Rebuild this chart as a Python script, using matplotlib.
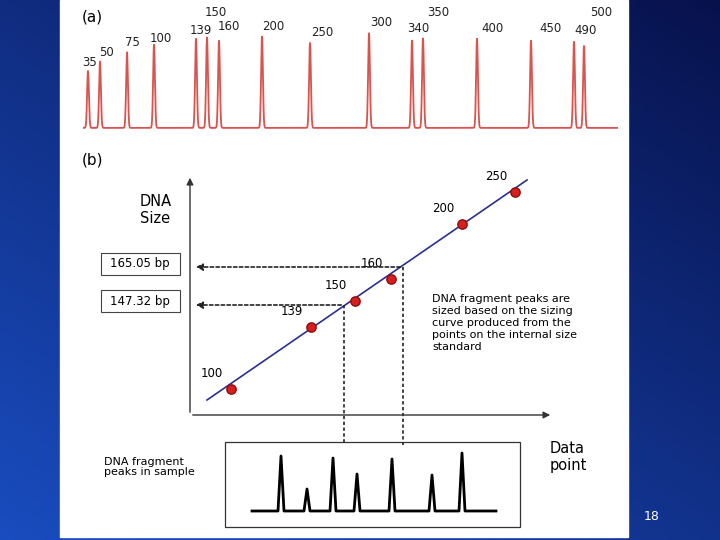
import matplotlib
matplotlib.use("Agg")
import matplotlib.pyplot as plt
import numpy as np
from matplotlib.patches import Rectangle

# ---- data ----
ladder_sizes = [35, 50, 75, 100, 139, 150, 160, 200, 250, 300, 340, 350, 400, 450, 490, 500]
ladder_pos = [5, 17, 44, 71, 113, 124, 136, 179, 227, 286, 329, 340, 394, 448, 491, 501]
ladder_height = [54, 63, 72, 79, 85, 86, 83, 87, 81, 90, 83, 85, 85, 83, 82, 78]
ladder_label_dx = [2, 7, 5, 7, 5, 9, 10, 11, 12, 12, 6, 15, 16, 19, 12, 17]
ladder_label_y = [62, 53, 43, 38, 30, 12, 27, 27, 33, 22, 28, 12, 29, 29, 30, 12]

std_sizes = [100, 139, 150, 160, 200, 250]
std_x = [41, 121, 165, 201, 272, 325]
std_y = [26, 88, 114, 136, 191, 223]
fit_x = [17, 337]
fit_y = [15, 235]
sample_x = [154, 213]
sample_y = [110, 148]
sample_labels = ["147.32 bp", "165.05 bp"]

peak_x = [0, 26, 29, 32, 52, 55, 58, 78, 81, 84, 102, 105, 108, 137, 140, 143, 177, 180, 183, 207, 210, 213, 244]
peak_y = [0, 0, 55, 0, 0, 22, 0, 0, 53, 0, 0, 37, 0, 0, 52, 0, 0, 36, 0, 0, 58, 0, 0]

W, H = 720, 540
fig = plt.figure(figsize=(7.2, 5.4), dpi=100)

def ax_px(x0, y0, x1, y1, **kw):
    return fig.add_axes([x0 / W, 1 - y1 / H, (x1 - x0) / W, (y1 - y0) / H], **kw)

# background
bg = ax_px(0, 0, 720, 540)
gx, gy = np.meshgrid(np.linspace(0, 1, 200), np.linspace(0, 1, 150))
t = np.clip(0.55 * gy + 0.45 * (1 - gx), 0, 1)
c0 = np.array([0.03, 0.07, 0.30]); c1 = np.array([0.10, 0.30, 0.75])
img = c0[None, None, :] * (1 - t[..., None]) + c1[None, None, :] * t[..., None]
bg.imshow(img, extent=[0, 720, 540, 0], aspect="auto")
bg.add_patch(Rectangle((60, 0), 568, 537, color="white"))
bg.set_xlim(0, 720); bg.set_ylim(540, 0); bg.axis("off")
bg.text(652, 517, "18", color="white", fontsize=9, ha="center", va="center")
bg.text(82, 17, "(a)", fontsize=11, va="center")
bg.text(82, 160, "(b)", fontsize=11, va="center")
for s, dx, ly, px in zip(ladder_sizes, ladder_label_dx, ladder_label_y, ladder_pos):
    bg.text(83 + px + dx, ly, str(s), fontsize=8.5, ha="center", va="center", color="#222")
bg.text(140, 210, "DNA\nSize", fontsize=10.5, ha="left", va="center", linespacing=1.1)
bg.text(550, 457, "Data\npoint", fontsize=10.5, ha="left", va="center", linespacing=1.1)
bg.text(432, 323, "DNA fragment peaks are\nsized based on the sizing\ncurve produced from the\npoints on the internal size\nstandard",
        fontsize=8, ha="left", va="center", linespacing=1.25)
bg.text(104, 467, "DNA fragment\npeaks in sample", fontsize=8, ha="left", va="center", linespacing=1.1)
for lab, yc in zip(sample_labels, [301, 264]):
    bg.add_patch(Rectangle((101, yc - 11), 79, 22, fill=False, lw=0.8, ec="#444"))
    bg.text(140, yc, lab, fontsize=8.5, ha="center", va="center")
bg.add_patch(Rectangle((225, 442), 295, 85, fill=False, lw=0.9, ec="#333"))

# (a) ladder trace
a = ax_px(83, 30, 618, 130)
xs = np.linspace(0, 535, 3000)
trace = np.full_like(xs, 2.0)
for p, h in zip(ladder_pos, ladder_height):
    trace += h * np.exp(-0.5 * ((xs - p) / 0.9) ** 2)
a.plot(xs, trace, color="#d9534f", lw=1.3)
a.set_xlim(0, 535); a.set_ylim(0, 95); a.axis("off")

# (b) sizing curve
b = ax_px(190, 175, 553, 415)
b.set_xlim(0, 363); b.set_ylim(0, 240); b.axis("off")
b.annotate("", xy=(0, 240), xytext=(0, 0), arrowprops=dict(arrowstyle="-|>", color="#333", lw=1))
b.annotate("", xy=(363, 0), xytext=(0, 0), arrowprops=dict(arrowstyle="-|>", color="#333", lw=1))
b.plot(fit_x, fit_y, color="#2b2f8f", lw=1.2)
b.scatter(std_x, std_y, s=45, color="#d91e1e", edgecolor="#8a1010", zorder=3)
for s, x, y in zip(std_sizes, std_x, std_y):
    b.text(x - 8, y + 9, str(s), fontsize=8.5, ha="right", va="bottom")
for x, y in zip(sample_x, sample_y):
    b.plot([x, x], [y, -30], ls=(0, (2, 1.5)), color="#222", lw=1.2, clip_on=False)
    b.annotate("", xy=(-89 + 92, y), xytext=(x, y),
               arrowprops=dict(arrowstyle="-|>", ls=(0, (2, 1.5)), color="#222", lw=1.2))

# sample peaks
c = ax_px(245, 442, 505, 527)
c.plot(peak_x, peak_y, color="black", lw=2)
c.set_xlim(-7, 253); c.set_ylim(-16, 69); c.axis("off")

fig.savefig("out.png", dpi=100)
